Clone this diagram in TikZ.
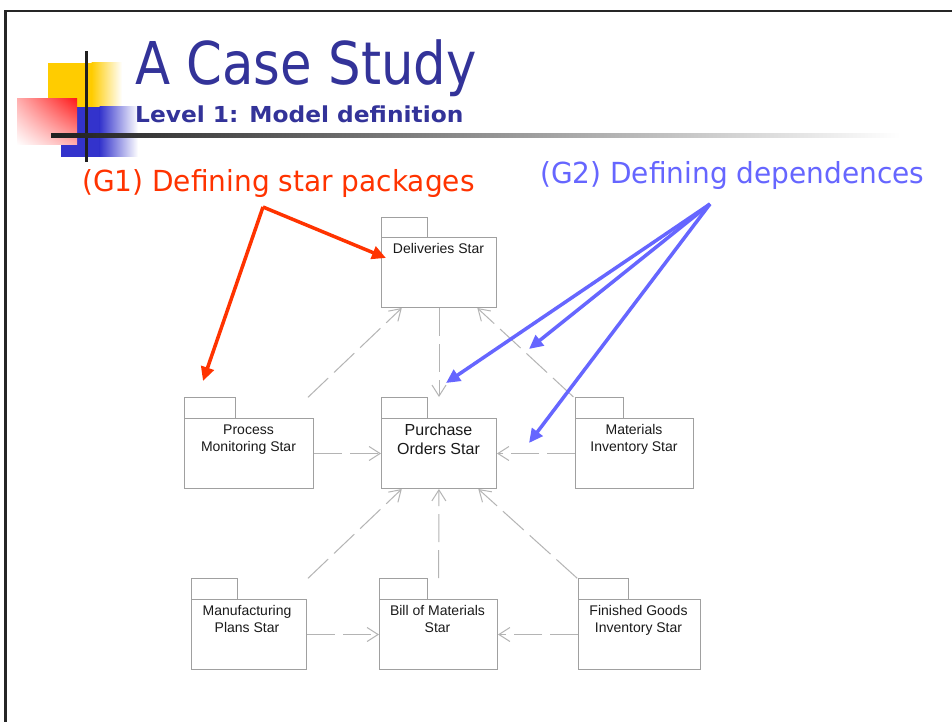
\documentclass[tikz,border=0pt]{standalone}
\usepackage{fontspec}
\setmainfont{Liberation Sans}
\newfontfamily\slidefont[FakeStretch=0.87]{DejaVu Sans}
\newfontfamily\slidewidefont[FakeStretch=0.965]{DejaVu Sans}
\newfontfamily\slideboldfont[FakeStretch=1.06]{DejaVu Sans Bold}
\usetikzlibrary{arrows.meta,shadings}
\definecolor{titleblue}{HTML}{333399}
\definecolor{gonecolor}{HTML}{FF3300}
\definecolor{gtwocolor}{HTML}{6666FF}
\definecolor{pkggray}{HTML}{A0A0A0}
\definecolor{depgray}{HTML}{B4B4B4}
\definecolor{pkgtextcol}{HTML}{1A1A1A}
\definecolor{decoyellow}{HTML}{FFCC00}
\definecolor{decoblue}{HTML}{3333CC}
\definecolor{decored}{HTML}{FF1A1A}

\tikzset{
  pkgbody/.style={draw=pkggray, line width=1pt, inner sep=0pt, anchor=north west},
  pkgline/.style={draw=pkggray, line width=1pt},
  pkgtext/.style={text=pkgtextcol, align=center, font=\fontsize{14}{17}\selectfont, inner sep=0pt},
  dep/.style={draw=depgray, line width=1pt, dash pattern=on 28pt off 8pt,
    -{Straight Barb[length=11pt,width=14pt,line width=1pt]}},
  pointer/.style={line width=3.5pt, -{Triangle[length=14pt,width=13pt]}},
}
\newcommand\pkgtab[3]{\draw[pkgline] (#1.north west) -- ++(0,-#3) -- ++(#2,0) -- ++(0,#3);}

\begin{document}
\begin{tikzpicture}[x=1pt,y=-1pt]
\useasboundingbox (0,0) rectangle (952,722);
\fill[white] (0,0) rectangle (952,722);

% slide frame
\draw[line width=2.6pt, black!85] (5.5,722) -- (5.5,11) -- (952,11);

% title decoration squares
\fill[decoyellow] (48,63) rectangle (92,107);
\shade[left color=decoyellow, right color=white] (91.5,63) rectangle (122,107);
\fill[decoblue] (61,107) rectangle (100,157);
\shade[left color=decoblue, right color=white] (99.5,107) rectangle (138,157);
\shade[upper right=decored, upper left=decored!35, lower right=decored!35, lower left=white]
  (17,99) rectangle (77,145);
\fill[black!88] (84.5,51) rectangle (88,162);
\shade[left color=black!88, right color=white] (51,134) rectangle (900,138);

% title
\node[anchor=base west, inner sep=0pt, text=titleblue, font=\slidefont\fontsize{59}{60}\selectfont]
  (title) at (135,85) {A Case Study};
\node[anchor=base west, inner sep=0pt, text=titleblue, font=\slideboldfont\fontsize{22}{24}\selectfont]
  (subtitle) at (135,123) {Level 1: Model definition};

% goal labels
\node[anchor=base west, inner sep=0pt, text=gonecolor, font=\slidewidefont\fontsize{29}{30}\selectfont]
  (gone) at (82,192) {(G1) Defining star packages};
\node[anchor=base west, inner sep=0pt, text=gtwocolor, font=\slidewidefont\fontsize{29}{30}\selectfont]
  (gtwo) at (540,183) {(G2) Defining dependences};

% star packages
\node[pkgbody, minimum width=115pt, minimum height=70pt] (del) at (381,237) {};
\pkgtab{del}{46}{20}
\node[pkgtext] (delt) at (438.5,248) {Deliveries Star};

\node[pkgbody, minimum width=129pt, minimum height=70pt] (pms) at (184,418) {};
\pkgtab{pms}{51}{21}
\node[pkgtext] (pmst) at (248.5,439.5) {Process\\Monitoring Star};

\node[pkgbody, minimum width=115pt, minimum height=70pt] (pos) at (381,418) {};
\pkgtab{pos}{46}{21}
\node[pkgtext, font=\fontsize{16}{18.5}\selectfont] (post) at (438.5,439.5) {Purchase\\Orders Star};

\node[pkgbody, minimum width=118pt, minimum height=70pt] (mis) at (575,418) {};
\pkgtab{mis}{48}{21}
\node[pkgtext] (mist) at (634,439.5) {Materials\\Inventory Star};

\node[pkgbody, minimum width=115pt, minimum height=70pt] (mps) at (191,599) {};
\pkgtab{mps}{46}{21}
\node[pkgtext] (mpst) at (247,618.5) {Manufacturing\\Plans Star};

\node[pkgbody, minimum width=118pt, minimum height=70pt] (bom) at (379,599) {};
\pkgtab{bom}{48}{21}
\node[pkgtext] (bomt) at (437.5,618.5) {Bill of Materials\\Star};

\node[pkgbody, minimum width=122pt, minimum height=70pt] (fgi) at (578,599) {};
\pkgtab{fgi}{50}{21}
\node[pkgtext] (fgit) at (638.5,620.5) {Finished Goods\\Inventory Star};

% dependences
\draw[dep, shorten >=21pt] (del) -- (pos);
\draw[dep, shorten <=30pt] (pms) -- (del);
\draw[dep, shorten <=31pt] (mis) -- (del);
\draw[dep] (pms) -- (pos);
\draw[dep] (mis) -- (pos);
\draw[dep, shorten <=30pt] (mps) -- (pos);
\draw[dep, shorten <=21pt] (bom) -- (pos);
\draw[dep, shorten <=31pt] (fgi) -- (pos);
\draw[dep] (mps) -- (bom);
\draw[dep] (fgi) -- (bom);

% pointers
\coordinate (gonefoot) at (263,207);
\coordinate (gonedel) at (386,258);
\coordinate (gonepms) at (203,381);
\draw[pointer, gonecolor] (gonefoot) -- (gonedel);
\draw[pointer, gonecolor] (gonefoot) -- (gonepms);

\coordinate (gtwofoot) at (710,204);
\coordinate (gtwoa) at (446,383);
\coordinate (gtwob) at (529,349);
\coordinate (gtwoc) at (529,443);
\draw[pointer, gtwocolor] (gtwofoot) -- (gtwoa);
\draw[pointer, gtwocolor] (gtwofoot) -- (gtwob);
\draw[pointer, gtwocolor] (gtwofoot) -- (gtwoc);
\end{tikzpicture}
\end{document}
